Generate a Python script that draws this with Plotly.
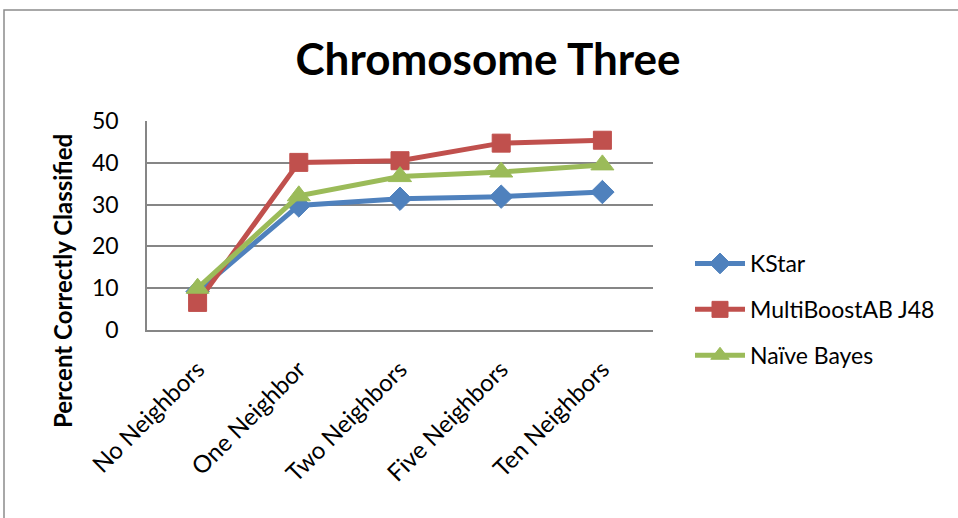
import plotly.graph_objects as go

# Classification accuracy per neighbourhood setting
categories = ["No Neighbors", "One Neighbor", "Two Neighbors", "Five Neighbors", "Ten Neighbors"]
kstar = [9.2, 29.8, 31.4, 31.9, 33.0]
multiboost = [6.6, 40.1, 40.5, 44.7, 45.4]
naive_bayes = [10.0, 32.1, 36.7, 37.8, 39.5]
y_ticks = [0, 10, 20, 30, 40, 50]

FONT = "Lato"
series = [
    ("KStar", kstar, "#4F81BD", "diamond", 18),
    ("MultiBoostAB J48", multiboost, "#C0504D", "square", 18),
    ("Naïve Bayes", naive_bayes, "#9BBB59", "triangle-up", 20),
]

fig = go.Figure()
for i, (name, vals, color, sym, size) in enumerate(series):
    fig.add_trace(go.Scatter(
        x=categories, y=vals, name=name, mode="lines+markers",
        legendgroup=f"g{i}",
        line=dict(color=color, width=5),
        marker=dict(symbol=sym, size=size, color=color, line=dict(color=color, width=1)),
    ))

# plot area geometry in px
L, R, T, B = 147, 653, 121, 330
W, H = 958, 518
pw, ph = R - L, B - T

def px_x(x):
    return (x - L) / pw

def px_y(y):
    return (B - y) / ph

fig.update_layout(
    width=W, height=H,
    margin=dict(l=L, r=W - R, t=T, b=H - B),
    paper_bgcolor="white", plot_bgcolor="white",
    font=dict(family=FONT, size=23, color="black"),
    showlegend=True,
    legend=dict(x=px_x(690), y=px_y(242), xanchor="left", yanchor="top",
                font=dict(size=23), tracegroupgap=13, itemwidth=50,
                bgcolor="rgba(0,0,0,0)"),
    title=dict(text="<b>Chromosome Three</b>", x=488 / W, y=1 - 60 / H,
               xanchor="center", yanchor="middle",
               font=dict(family=FONT, size=44, color="black")),
    xaxis=dict(type="category", range=[-0.5, 4.5], tickangle=-45,
               showgrid=False, showline=True, linecolor="#868686", linewidth=1.5,
               ticks="", ticklabelstandoff=14, tickfont=dict(size=24)),
    yaxis=dict(range=[0, 50], tickvals=y_ticks, showgrid=True,
               gridcolor="#868686", gridwidth=1.5, showline=True,
               linecolor="#868686", linewidth=1.5, zeroline=False,
               ticks="", ticklabelstandoff=22, tickfont=dict(size=23)),
    annotations=[dict(text="<b>Percent Correctly Classified</b>", textangle=-90,
                      x=px_x(62), y=px_y(281), xref="paper", yref="paper",
                      xanchor="center", yanchor="middle",
                      showarrow=False, font=dict(size=24))],
    shapes=[dict(type="rect", xref="paper", yref="paper",
                 x0=px_x(4), x1=px_x(970), y0=px_y(10), y1=px_y(530),
                 line=dict(color="#8c8c8c", width=1.5), layer="below")],
)

fig.write_html("out.html")
